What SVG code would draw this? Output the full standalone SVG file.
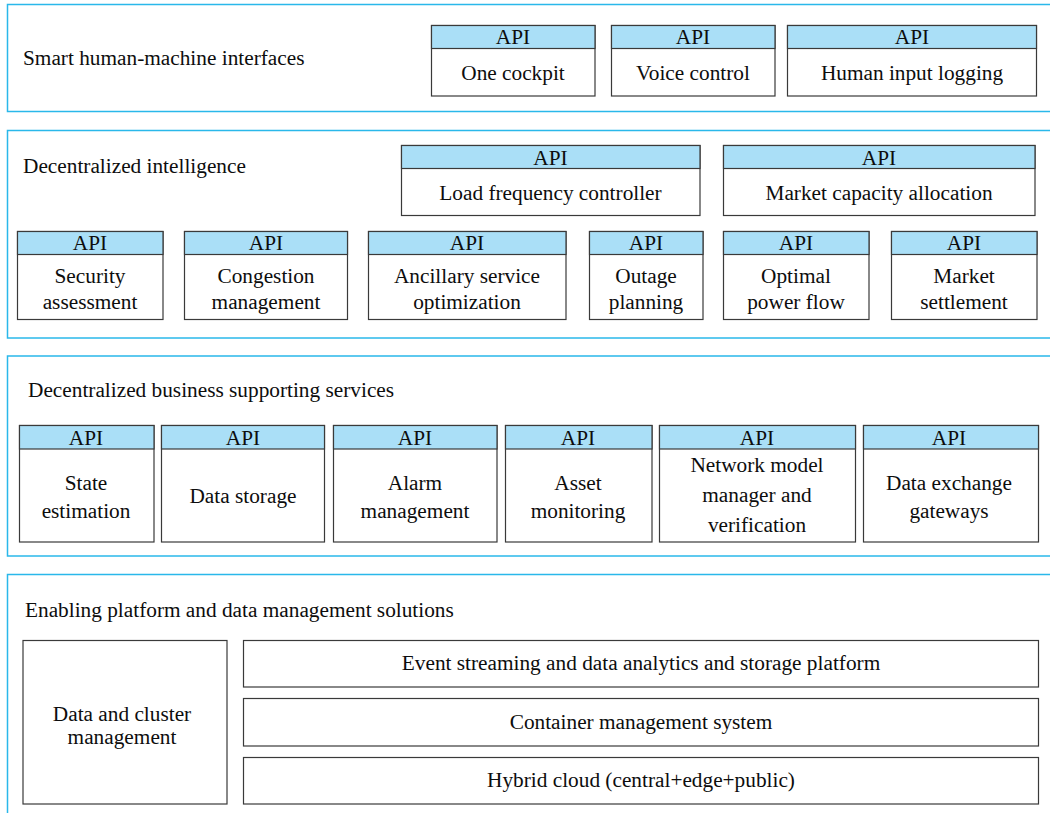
<svg xmlns="http://www.w3.org/2000/svg" width="1050" height="813" viewBox="0 0 1050 813" font-family="'Liberation Serif', 'Times New Roman', serif">
  <style>
    .panel { fill: #ffffff; stroke: #2ab8ea; stroke-width: 1.5; }
    .box { fill: #ffffff; stroke: #3a3a3a; stroke-width: 1.2; }
    .hdr { fill: #aadff7; stroke: #3a3a3a; stroke-width: 1.2; }
    text { font-family: "Liberation Serif", "Times New Roman", serif; font-size: 21.3px; fill: #0d0d0d; }
    .c { text-anchor: middle; }
  </style>
  <rect width="1050" height="813" fill="#ffffff"/>

  <!-- Layer frames -->
  <g id="layers">
    <rect class="panel" x="7.5" y="4.5" width="1060" height="107"/>
    <rect class="panel" x="7.5" y="130.5" width="1060" height="207.5"/>
    <rect class="panel" x="7.5" y="356" width="1060" height="200"/>
    <rect class="panel" x="7.5" y="574.5" width="1060" height="260"/>
    <text x="23" y="65">Smart human-machine interfaces</text>
    <text x="23" y="173">Decentralized intelligence</text>
    <text x="28" y="397">Decentralized business supporting services</text>
    <text x="25" y="617">Enabling platform and data management solutions</text>
  </g>

  <!-- Smart human-machine interfaces -->
  <g id="one-cockpit">
    <rect class="box" x="431.5" y="25.5" width="163.5" height="70.5"/>
    <rect class="hdr" x="431.5" y="25.5" width="163.5" height="23"/>
    <text class="c" x="513" y="44">API</text>
    <text class="c" x="513" y="80">One cockpit</text>
  </g>
  <g id="voice-control">
    <rect class="box" x="611.5" y="25.5" width="163.5" height="70.5"/>
    <rect class="hdr" x="611.5" y="25.5" width="163.5" height="23"/>
    <text class="c" x="693" y="44">API</text>
    <text class="c" x="693" y="80">Voice control</text>
  </g>
  <g id="human-input-logging">
    <rect class="box" x="787.5" y="25.5" width="249" height="70.5"/>
    <rect class="hdr" x="787.5" y="25.5" width="249" height="23"/>
    <text class="c" x="912" y="44">API</text>
    <text class="c" x="912" y="80">Human input logging</text>
  </g>

  <!-- Decentralized intelligence -->
  <g id="load-frequency-controller">
    <rect class="box" x="401.5" y="145.5" width="298.5" height="70"/>
    <rect class="hdr" x="401.5" y="145.5" width="298.5" height="23"/>
    <text class="c" x="550.5" y="165">API</text>
    <text class="c" x="550.5" y="200">Load frequency controller</text>
  </g>
  <g id="market-capacity-allocation">
    <rect class="box" x="723.5" y="145.5" width="311.5" height="70"/>
    <rect class="hdr" x="723.5" y="145.5" width="311.5" height="23"/>
    <text class="c" x="879" y="165">API</text>
    <text class="c" x="879" y="200">Market capacity allocation</text>
  </g>
  <g id="security-assessment">
    <rect class="box" x="17.5" y="231.5" width="145.5" height="88"/>
    <rect class="hdr" x="17.5" y="231.5" width="145.5" height="23"/>
    <text class="c" x="90" y="250">API</text>
    <text class="c" x="90" y="283">Security</text>
    <text class="c" x="90" y="309">assessment</text>
  </g>
  <g id="congestion-management">
    <rect class="box" x="184.5" y="231.5" width="163" height="88"/>
    <rect class="hdr" x="184.5" y="231.5" width="163" height="23"/>
    <text class="c" x="266" y="250">API</text>
    <text class="c" x="266" y="283">Congestion</text>
    <text class="c" x="266" y="309">management</text>
  </g>
  <g id="ancillary-service-optimization">
    <rect class="box" x="368.5" y="231.5" width="197.5" height="88"/>
    <rect class="hdr" x="368.5" y="231.5" width="197.5" height="23"/>
    <text class="c" x="467" y="250">API</text>
    <text class="c" x="467" y="283">Ancillary service</text>
    <text class="c" x="467" y="309">optimization</text>
  </g>
  <g id="outage-planning">
    <rect class="box" x="589.5" y="231.5" width="113.5" height="88"/>
    <rect class="hdr" x="589.5" y="231.5" width="113.5" height="23"/>
    <text class="c" x="646" y="250">API</text>
    <text class="c" x="646" y="283">Outage</text>
    <text class="c" x="646" y="309">planning</text>
  </g>
  <g id="optimal-power-flow">
    <rect class="box" x="723.5" y="231.5" width="145.5" height="88"/>
    <rect class="hdr" x="723.5" y="231.5" width="145.5" height="23"/>
    <text class="c" x="796" y="250">API</text>
    <text class="c" x="796" y="283">Optimal</text>
    <text class="c" x="796" y="309">power flow</text>
  </g>
  <g id="market-settlement">
    <rect class="box" x="891.5" y="231.5" width="145.5" height="88"/>
    <rect class="hdr" x="891.5" y="231.5" width="145.5" height="23"/>
    <text class="c" x="964" y="250">API</text>
    <text class="c" x="964" y="283">Market</text>
    <text class="c" x="964" y="309">settlement</text>
  </g>

  <!-- Decentralized business supporting services -->
  <g id="state-estimation">
    <rect class="box" x="19.5" y="425.5" width="134.5" height="116.5"/>
    <rect class="hdr" x="19.5" y="425.5" width="134.5" height="23.5"/>
    <text class="c" x="86" y="445">API</text>
    <text class="c" x="86" y="490">State</text>
    <text class="c" x="86" y="518">estimation</text>
  </g>
  <g id="data-storage">
    <rect class="box" x="161.5" y="425.5" width="163" height="116.5"/>
    <rect class="hdr" x="161.5" y="425.5" width="163" height="23.5"/>
    <text class="c" x="243" y="445">API</text>
    <text class="c" x="243" y="503">Data storage</text>
  </g>
  <g id="alarm-management">
    <rect class="box" x="333.5" y="425.5" width="163.5" height="116.5"/>
    <rect class="hdr" x="333.5" y="425.5" width="163.5" height="23.5"/>
    <text class="c" x="415" y="445">API</text>
    <text class="c" x="415" y="490">Alarm</text>
    <text class="c" x="415" y="518">management</text>
  </g>
  <g id="asset-monitoring">
    <rect class="box" x="505.5" y="425.5" width="146.5" height="116.5"/>
    <rect class="hdr" x="505.5" y="425.5" width="146.5" height="23.5"/>
    <text class="c" x="578" y="445">API</text>
    <text class="c" x="578" y="490">Asset</text>
    <text class="c" x="578" y="518">monitoring</text>
  </g>
  <g id="network-model-manager">
    <rect class="box" x="659.5" y="425.5" width="196" height="116.5"/>
    <rect class="hdr" x="659.5" y="425.5" width="196" height="23.5"/>
    <text class="c" x="757" y="445">API</text>
    <text class="c" x="757" y="472">Network model</text>
    <text class="c" x="757" y="502">manager and</text>
    <text class="c" x="757" y="532">verification</text>
  </g>
  <g id="data-exchange-gateways">
    <rect class="box" x="863.5" y="425.5" width="175" height="116.5"/>
    <rect class="hdr" x="863.5" y="425.5" width="175" height="23.5"/>
    <text class="c" x="949" y="445">API</text>
    <text class="c" x="949" y="490">Data exchange</text>
    <text class="c" x="949" y="518">gateways</text>
  </g>

  <!-- Enabling platform and data management solutions -->
  <g id="data-cluster-management">
    <rect class="box" x="23" y="640.5" width="204" height="163.5"/>
    <text class="c" x="122" y="721">Data and cluster</text>
    <text class="c" x="122" y="744">management</text>
  </g>
  <g id="event-streaming">
    <rect class="box" x="243.5" y="640.5" width="795" height="46.5"/>
    <text class="c" x="641" y="670">Event streaming and data analytics and storage platform</text>
  </g>
  <g id="container-management">
    <rect class="box" x="243.5" y="698.5" width="795" height="47.5"/>
    <text class="c" x="641" y="729">Container management system</text>
  </g>
  <g id="hybrid-cloud">
    <rect class="box" x="243.5" y="757.5" width="795" height="46.5"/>
    <text class="c" x="641" y="787">Hybrid cloud (central+edge+public)</text>
  </g>
</svg>
